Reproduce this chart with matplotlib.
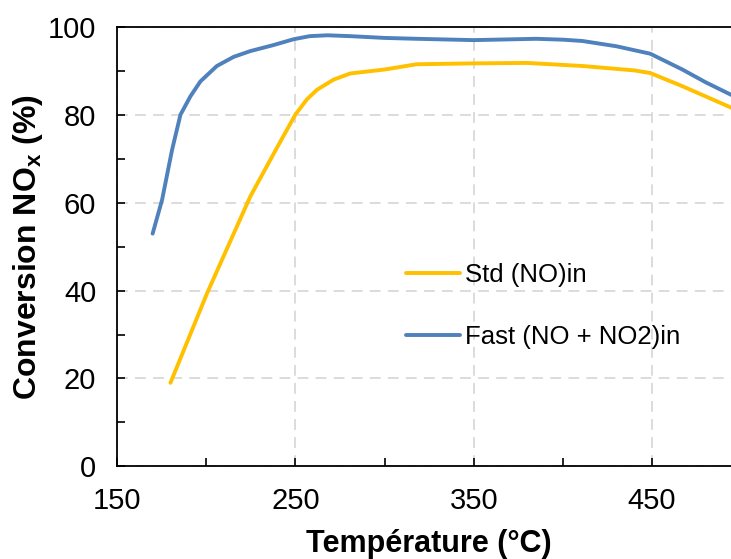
import matplotlib.pyplot as plt
from matplotlib.ticker import MultipleLocator, FixedLocator

plt.rcParams["font.family"] = ["Liberation Sans", "DejaVu Sans"]
plt.rcParams["mathtext.fontset"] = "custom"
plt.rcParams["mathtext.bf"] = "Liberation Sans:bold"
plt.rcParams["mathtext.rm"] = "Liberation Sans"

# Std (NO)in
temp_std = [180, 200.5, 224.8, 240, 250, 256.5, 262.2, 271.5, 280.8, 300, 318, 350, 380, 411, 440, 449, 467, 495]
conv_std = [19, 39.4, 61.5, 72.8, 80.1, 83.6, 85.8, 88.1, 89.5, 90.4, 91.6, 91.8, 91.9, 91.2, 90.2, 89.6, 86.6, 81.6]

# Fast (NO + NO2)in
temp_fast = [170, 175.3, 180.9, 185.6, 191.2, 196.8, 206, 215.5, 224.8, 238, 249, 258, 268, 281,
             300, 318, 350, 385, 400, 411, 430, 449, 467, 480, 495]
conv_fast = [53, 60.7, 72.1, 80.1, 84.3, 87.7, 91.2, 93.3, 94.6, 96.0, 97.3, 98.0, 98.2, 98.0,
             97.6, 97.4, 97.1, 97.4, 97.2, 96.9, 95.7, 94.0, 90.4, 87.5, 84.5]

fig = plt.figure(figsize=(7.31, 5.59), dpi=100)
ax = fig.add_axes([0.160, 0.166, 0.854, 0.785])

ax.plot(temp_std, conv_std, color="#FFC000", lw=2.8, label="Std (NO)in",
        solid_capstyle="round", solid_joinstyle="round")
ax.plot(temp_fast, conv_fast, color="#4F81BD", lw=2.8, label="Fast (NO + NO2)in",
        solid_capstyle="round", solid_joinstyle="round")

ax.set_xlim(150, 500)
ax.set_ylim(0, 100)
ax.xaxis.set_major_locator(FixedLocator([150, 250, 350, 450]))
ax.xaxis.set_minor_locator(FixedLocator([200, 300, 400]))
ax.yaxis.set_major_locator(MultipleLocator(20))
ax.yaxis.set_minor_locator(MultipleLocator(10))
ax.tick_params(which="both", direction="in", length=6, width=1.2, labelsize=21,
               top=False, right=False)
ax.tick_params(axis="x", pad=15)
ax.tick_params(axis="y", pad=15)
ax.grid(True, which="major", color="#D9D9D9", lw=1.3, ls=(0, (6, 4)))
ax.set_axisbelow(True)
for side in ["left", "bottom", "top"]:
    ax.spines[side].set_linewidth(1.3)
ax.spines["right"].set_visible(False)

ax.set_xlabel("Température (°C)", fontsize=22, fontweight="bold", labelpad=10)
ax.set_ylabel(r"Conversion NO$_\mathbf{x}$ (%)", fontsize=23, fontweight="bold", labelpad=2)

ax.legend(loc="upper left", bbox_to_anchor=(0.463, 0.462), frameon=False, fontsize=18.5,
          handlelength=2.1, handletextpad=0.2, labelspacing=1.45, borderpad=0, borderaxespad=0)

fig.savefig("out.png", dpi=100)
